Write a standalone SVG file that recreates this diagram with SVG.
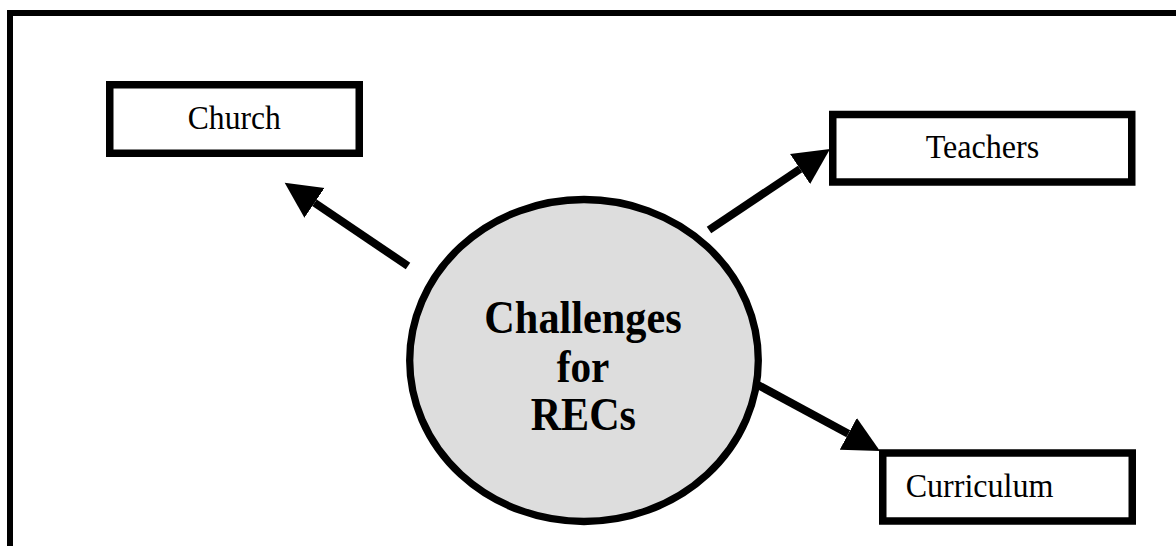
<svg xmlns="http://www.w3.org/2000/svg" width="1176" height="546" viewBox="0 0 1176 546">
  <style>
    .box { fill: #ffffff; stroke: #000000; stroke-width: 7.5; }
    .hub { fill: #dddddd; stroke: #000000; stroke-width: 7.3; }
    .label { font-family: "Liberation Serif", "Times New Roman", serif; font-size: 34px; fill: #000000; }
    .title { font-family: "Liberation Serif", "Times New Roman", serif; font-size: 46px; font-weight: bold; fill: #000000; text-anchor: middle; }
    .link { stroke: #000000; stroke-width: 8; fill: none; marker-end: url(#head); }
  </style>
  <defs>
    <marker id="head" markerUnits="userSpaceOnUse" markerWidth="37" markerHeight="37" viewBox="0 -18.5 37 37" refX="0" refY="0" orient="auto">
      <path d="M0,-18 L36,0 L0,18 Z" fill="#000000"/>
    </marker>
  </defs>
  <rect width="1176" height="546" fill="#ffffff"/>

  <!-- outer frame: left and top sides -->
  <path d="M10,546 L10,13 L1176,13" fill="none" stroke="#000000" stroke-width="6"/>

  <g id="connectors">
    <line class="link" x1="408" y1="266" x2="314.5" y2="202.8"/>
    <line class="link" x1="709" y1="230" x2="800.1" y2="169"/>
    <line class="link" x1="758" y1="385" x2="848.3" y2="433.8"/>
  </g>

  <g id="church">
    <rect class="box" x="109.75" y="84.75" width="249.5" height="68.5"/>
    <text class="label" x="234.3" y="129" text-anchor="middle" textLength="93" lengthAdjust="spacingAndGlyphs">Church</text>
  </g>

  <g id="teachers">
    <rect class="box" x="832.75" y="114.5" width="299" height="67.5"/>
    <text class="label" x="982.5" y="158.3" text-anchor="middle" textLength="113.6" lengthAdjust="spacingAndGlyphs">Teachers</text>
  </g>

  <g id="curriculum">
    <rect class="box" x="882.75" y="453" width="249.5" height="68"/>
    <text class="label" x="905.7" y="496.7" textLength="147.7" lengthAdjust="spacingAndGlyphs">Curriculum</text>
  </g>

  <g id="challenges">
    <ellipse class="hub" cx="584" cy="360.5" rx="174.3" ry="161"/>
    <text class="title" x="583" y="333.3" textLength="197.3" lengthAdjust="spacingAndGlyphs">Challenges</text>
    <text class="title" x="583" y="381.7" textLength="52.6" lengthAdjust="spacingAndGlyphs">for</text>
    <text class="title" x="583.3" y="430" textLength="105.3" lengthAdjust="spacingAndGlyphs">RECs</text>
  </g>
</svg>
